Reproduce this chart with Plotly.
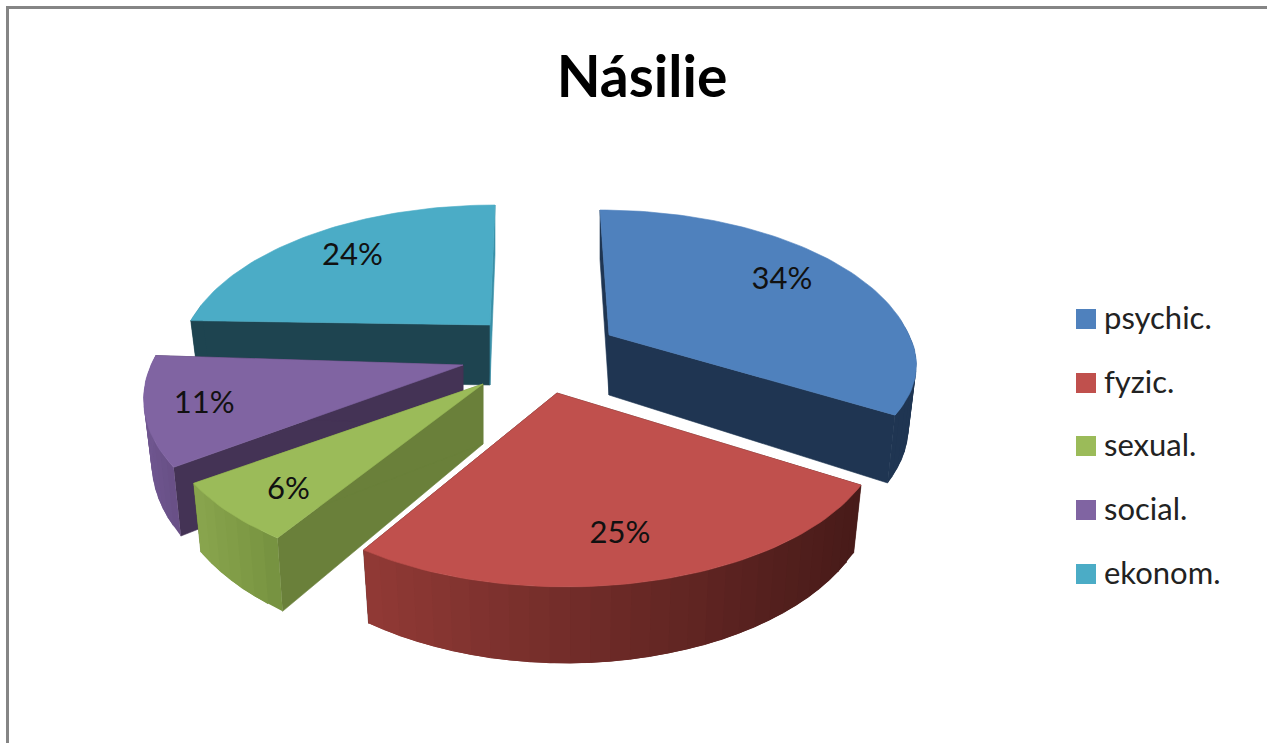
import numpy as np
import plotly.graph_objects as go

# data
labels = ["psychic.", "fyzic.", "sexual.", "social.", "ekonom."]
values = [34, 25, 6, 11, 24]

# style
top_colors = ["#4F81BD", "#C0504D", "#9BBB59", "#8064A2", "#4BACC6"]
start_cut = ["#1F3552", "#4A1C1A", "#6A803A", "#443355", "#1E4450"]
end_cut = ["#1F3552", "#4A1C1A", "#6A803A", "#443355", "#3A90A8"]
wall_left = [(31, 53, 82), (146, 58, 54), (138, 166, 78), (112, 87, 144), (30, 68, 80)]
wall_right = [(31, 53, 82), (72, 27, 25), (118, 146, 64), (104, 80, 134), (30, 68, 80)]

# exploded centre of each slice, in page pixels
apex_x = [609, 557, 483, 463, 490]
apex_y = [335, 393, 384, 365, 325]
# rim nudges for each slice, the picture's perspective is not the same everywhere
rim_dx = [-9, 9, -3, -3, 5]
rim_dy = [0, 0, -3, 0, 5]
front_ry = [0.87, 1, 1, 1, 1]
label_r = [0.72, 0.78, 0.82, 0.83, 0.74]
label_dx = [-2, -7, 7, 3, -1]
label_dy = [-5, 4, 5, 3, 2]
draw_order = [4, 0, 3, 2, 1]

RX = 309
RY = 152
PERSP = 0.216
DEPTH = 60
BOTTOM_SHRINK = 0.975
STEP = 3.0


def project(i, angle, r=1.0):
    t = np.radians(angle)
    d = 1 + PERSP * np.cos(t) * r
    x = r * RX * np.sin(t) / d
    y = -r * RY * np.cos(t) / d
    if y > 0:
        y *= front_ry[i]
    return x, y, d


def top_point(i, angle, r=1.0):
    x, y, _ = project(i, angle, r)
    return apex_x[i] + x + rim_dx[i] * r, apex_y[i] + y + rim_dy[i] * r


def bottom_point(i, angle, r=1.0):
    x, y, d = project(i, angle, r)
    return (
        apex_x[i] + x * BOTTOM_SHRINK + rim_dx[i] * r,
        apex_y[i] + y + rim_dy[i] * r + DEPTH / d,
    )


def poly(pts, color, width=0.6):
    xs = [p[0] for p in pts] + [pts[0][0]]
    ys = [p[1] for p in pts] + [pts[0][1]]
    return go.Scatter(
        x=xs, y=ys, mode="lines", fill="toself", fillcolor=color,
        line=dict(color=color, width=width), hoverinfo="skip", showlegend=False,
    )


def mix(a, b, f):
    return "rgb(%d,%d,%d)" % tuple(a[k] + (b[k] - a[k]) * f for k in range(3))


edges = np.cumsum([0] + values) * 3.6
fig = go.Figure()

for i in draw_order:
    a0, a1 = edges[i], edges[i + 1]
    centre_top = top_point(i, 0, 0)
    centre_bot = bottom_point(i, 0, 0)

    # cut faces first, the rim wall sits in front of them
    fig.add_trace(poly([centre_top, top_point(i, a0), bottom_point(i, a0), centre_bot], start_cut[i]))
    fig.add_trace(poly([centre_top, top_point(i, a1), bottom_point(i, a1), centre_bot], end_cut[i]))

    angles = np.arange(a0, a1, STEP).tolist() + [a1]
    xs_all = [top_point(i, a)[0] for a in angles]
    lo, hi = min(xs_all), max(xs_all)
    for a, b in zip(angles[:-1], angles[1:]):
        # the back of the rim is never seen
        if np.cos(np.radians((a + b) / 2)) > 0.1:
            continue
        # each strip runs on under the next one so no white seam shows
        b2 = min(b + STEP, a1)
        f = (top_point(i, (a + b) / 2)[0] - lo) / (hi - lo)
        fig.add_trace(poly(
            [top_point(i, a), top_point(i, b2), bottom_point(i, b2), bottom_point(i, a)],
            mix(wall_left[i], wall_right[i], f), width=0,
        ))

    rim = np.arange(a0, a1, 1.5).tolist() + [a1]
    fig.add_trace(poly([centre_top] + [top_point(i, a) for a in rim], top_colors[i]))

# percent labels
for i, v in enumerate(values):
    lx, ly = top_point(i, (edges[i] + edges[i + 1]) / 2, label_r[i])
    fig.add_trace(go.Scatter(
        x=[lx + label_dx[i]], y=[ly + label_dy[i]], mode="text", text=[f"{v}%"],
        hoverinfo="skip", showlegend=False,
        textfont=dict(family="Lato", size=31, color="#111111"),
    ))

# legend drawn on the page so the swatches and spacing can match
legend_y = [319, 383, 446, 510, 574]
fig.add_trace(go.Scatter(
    x=[1086] * len(labels), y=legend_y, mode="markers", hoverinfo="skip", showlegend=False,
    marker=dict(symbol="square", size=20, color=top_colors),
))
fig.add_trace(go.Scatter(
    x=[1104] * len(labels), y=[y + 2 for y in legend_y], mode="text", text=labels,
    textposition="middle right", hoverinfo="skip", showlegend=False,
    textfont=dict(family="Lato", size=31, color="#222222"),
))

fig.update_layout(
    width=1267,
    height=743,
    margin=dict(l=0, r=0, t=0, b=0),
    paper_bgcolor="white",
    plot_bgcolor="white",
    showlegend=False,
    title=dict(
        text="<b>Násilie</b>", x=642 / 1267, y=1 - 77 / 743,
        xanchor="center", yanchor="middle",
        font=dict(family="Lato", size=57, color="black"),
    ),
    xaxis=dict(range=[0, 1267], visible=False, fixedrange=True),
    yaxis=dict(range=[743, 0], visible=False, fixedrange=True),
    shapes=[
        dict(type="line", xref="x", yref="y", x0=8, y0=7.5, x1=1267, y1=7.5,
             line=dict(color="#858585", width=3)),
        dict(type="line", xref="x", yref="y", x0=7.5, y0=6, x1=7.5, y1=743,
             line=dict(color="#858585", width=3)),
    ],
)

fig.write_html(
    "out.html",
    config={"displayModeBar": False},
    post_script="document.body.style.margin='0';document.body.style.overflow='hidden';",
)
